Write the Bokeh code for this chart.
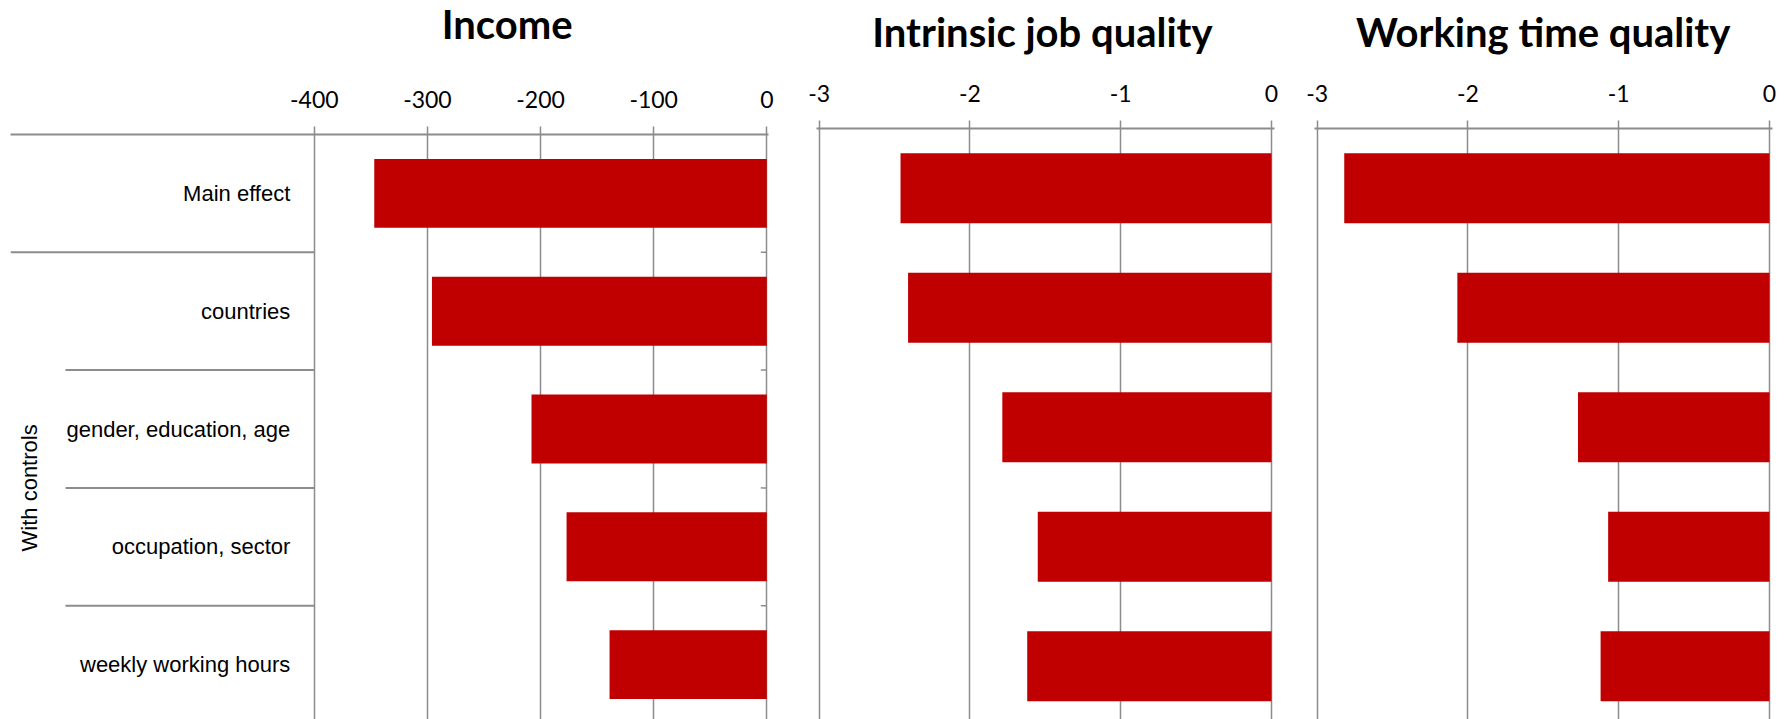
from math import pi

from bokeh.core.properties import value
from bokeh.embed import file_html
from bokeh.layouts import column, row
from bokeh.models import FixedTicker, Range1d
from bokeh.plotting import figure
from bokeh.resources import INLINE

# --- data -----------------------------------------------------------------
categories = [
    "Main effect",
    "countries",
    "gender, education, age",
    "occupation, sector",
    "weekly working hours",
]
group_label = "With controls"          # spans every row after the main effect

income = [-347, -296, -208, -177, -139]
intrinsic_job_quality = [-2.46, -2.41, -1.785, -1.55, -1.62]
working_time_quality = [-2.82, -2.07, -1.27, -1.07, -1.12]

income_ticks = [-400, -300, -200, -100, 0]
quality_ticks = [-3, -2, -1, 0]

# --- styling --------------------------------------------------------------
BAR_COLOR = "#C00000"
RULE_COLOR = "#8c8c8c"
TICK_FONT = "Lato"
TITLE_FONT = value("Lato")
CAT_FONT = value("Liberation Sans")
HEIGHT = 719
HEADER_H = 60
BAR_HEIGHT = 0.585

positions = list(range(len(categories)))
separators = [p + 0.5 for p in positions[:-1]]


def x_range_for(zero_px, unit_px, frame_left, frame_right):
    """Data range whose zero sits at zero_px, with unit_px pixels per unit."""
    return Range1d((frame_left - zero_px) / unit_px,
                   (frame_right - zero_px) / unit_px)


def make_header(title, x_range, width, border_left, border_right,
                title_x, title_y):
    h = figure(
        width=width, height=HEADER_H,
        x_range=x_range, y_range=Range1d(HEADER_H, 0),
        x_axis_location=None, y_axis_location=None, title_location=None,
        min_border_left=border_left, min_border_right=border_right,
        min_border_top=0, min_border_bottom=0,
        toolbar_location=None, output_backend="svg", frame_align=False,
    )
    h.outline_line_color = None
    h.grid.visible = False
    h.text(x=[title_x], y=[title_y], text=[title],
           text_align="center", text_baseline="alphabetic",
           text_font=TITLE_FONT, text_font_style="bold",
           text_font_size="40px", text_color="black")
    return h


def make_panel(values, ticks, x_range, width, border_left, border_right,
               border_top, row_px):
    height = HEIGHT - HEADER_H
    frame_h = height - border_top
    y_bottom = -0.5 + frame_h / row_px
    p = figure(
        width=width, height=height,
        x_range=x_range,
        y_range=Range1d(y_bottom, -0.5),
        x_axis_location="above", y_axis_location=None, title_location=None,
        min_border_left=border_left, min_border_right=border_right,
        min_border_top=border_top, min_border_bottom=0,
        toolbar_location=None, output_backend="svg", frame_align=False,
    )
    p.outline_line_color = None
    p.background_fill_color = "white"
    p.border_fill_color = "white"

    ax = p.xaxis[0]
    ax.ticker = FixedTicker(ticks=ticks)
    ax.major_label_overrides = {t: str(t) for t in ticks}
    ax.axis_line_color = RULE_COLOR
    ax.axis_line_width = 2
    ax.major_tick_line_color = RULE_COLOR
    ax.major_tick_line_width = 1.5
    ax.major_tick_out = 8
    ax.major_tick_in = 0
    ax.minor_tick_line_color = None
    ax.major_label_text_font = TICK_FONT
    ax.major_label_text_font_size = "23px"
    ax.major_label_text_color = "black"
    ax.major_label_standoff = 19

    p.xgrid.ticker = FixedTicker(ticks=ticks)
    p.xgrid.grid_line_color = RULE_COLOR
    p.xgrid.grid_line_width = 1.5
    p.ygrid.visible = False

    p.hbar(y=positions, left=values, right=0, height=BAR_HEIGHT,
           fill_color=BAR_COLOR, line_color=None)
    return p


# ---- Income (carries the row labels on its left side) ---------------------
income_unit_px = 452.5 / 400
xr1 = x_range_for(766.3, income_unit_px, 10, 768)
h1 = make_header("Income", xr1, 792, 10, 24, -229.6, 23.5)
p1 = make_panel(income, income_ticks, xr1, 792, 10, 24, 134 - HEADER_H, 117.8)

axis_min = income_ticks[0]
indent = xr1.start + 55 / income_unit_px
p1.segment(x0=[xr1.start] + [indent] * (len(separators) - 1),
           x1=[axis_min] * len(separators),
           y0=separators, y1=separators,
           line_color=RULE_COLOR, line_width=2)

# short ticks on the zero line marking the row boundaries
p1.segment(x0=[-6 / income_unit_px] * len(separators), x1=[0] * len(separators),
           y0=separators, y1=separators,
           line_color=RULE_COLOR, line_width=1.5)

p1.text(x=[axis_min] * len(categories), y=positions, text=categories,
        x_offset=-24, text_align="right", text_baseline="middle",
        text_font=CAT_FONT, text_font_size="22px", text_color="black")

group_y = sum(positions[1:]) / len(positions[1:])
p1.text(x=[xr1.start], y=[group_y], text=[group_label],
        x_offset=19, angle=pi / 2, text_align="center", text_baseline="middle",
        text_font=CAT_FONT, text_font_size="22px", text_color="black")

# ---- Intrinsic job quality ------------------------------------------------
quality_unit_px = 150.8
xr2 = x_range_for(479, quality_unit_px, 24, 482)
h2 = make_header("Intrinsic job quality", xr2, 500, 24, 18, -1.519, 31.5)
p2 = make_panel(intrinsic_job_quality, quality_ticks, xr2, 500, 24, 18,
                128 - HEADER_H, 119.5)

# ---- Working time quality -------------------------------------------------
xr3 = x_range_for(477, quality_unit_px, 22, 480)
h3 = make_header("Working time quality", xr3, 493, 22, 13, -1.501, 31.5)
p3 = make_panel(working_time_quality, quality_ticks, xr3, 493, 22, 13,
                128 - HEADER_H, 119.5)

layout = row(column(h1, p1), column(h2, p2), column(h3, p3))

with open("out.html", "w") as f:
    f.write(file_html(layout, INLINE))
